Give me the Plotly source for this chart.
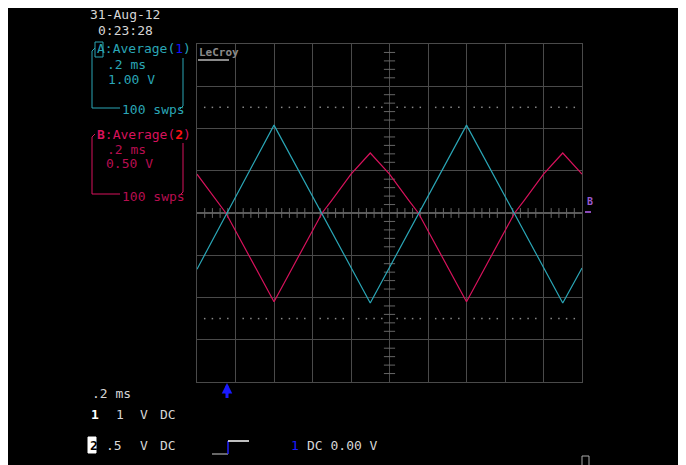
import plotly.graph_objects as go

# page body has an 8px margin, so the figure is laid out 8px smaller and
# every screen pixel coordinate below is shifted by OFF
OFF = 8
W, H = 686 - OFF, 465 - OFF

# channel A (1 V/div) - triangle wave, vertices
t_a = [0.00, 0.40, 0.90, 1.40, 1.90, 2.00]          # ms
v_a = [-1.33, 2.08, -2.13, 2.08, -2.13, -1.30]      # V

# channel B (0.5 V/div) - distorted, inverted triangle
t_b = [0.00, 0.10, 0.15, 0.20, 0.30, 0.40, 0.50, 0.60, 0.65, 0.70, 0.80, 0.90,
       1.00, 1.10, 1.15, 1.20, 1.30, 1.40, 1.50, 1.60, 1.65, 1.70, 1.80, 1.90, 2.00]
v_b = [0.46, 0.15, 0.00, -0.21, -0.63, -1.05, -0.63, -0.21, 0.00, 0.15, 0.46, 0.71,
       0.46, 0.15, 0.00, -0.21, -0.63, -1.05, -0.63, -0.21, 0.00, 0.15, 0.46, 0.71, 0.46]

volts_per_div = {"A": 1.0, "B": 0.5}
time_per_div = 0.2  # ms

CYAN = "#2aa6b6"
MAG = "#d8125c"
MAG_DARK = "#b80e50"
TXT = "#d6d6d6"
GRID = "#4a4a4a"

# graticule area in screen pixels
GX0, GX1, GY0, GY1 = 197, 582, 44, 382


def px(x, y):
    return (x - OFF) / W, 1 - (y - OFF) / H


fig = go.Figure()

# minor ticks on the centre axes and the dotted 2.5 div lines
minor_x = [round(i * time_per_div / 5, 3) for i in range(51) if i % 5]
minor_y = [i / 5 for i in range(-20, 21) if i % 5]
fig.add_trace(go.Scatter(x=minor_x, y=[0] * len(minor_x), mode="markers",
                         marker=dict(symbol="line-ns", size=7, line=dict(color="#666", width=1)),
                         hoverinfo="skip"))
fig.add_trace(go.Scatter(x=[1.0] * len(minor_y), y=minor_y, mode="markers",
                         marker=dict(symbol="line-ew", size=8, line=dict(color="#666", width=1)),
                         hoverinfo="skip"))
for yy in (2.5, -2.5):
    fig.add_trace(go.Scatter(x=minor_x, y=[yy] * len(minor_x), mode="markers",
                             marker=dict(symbol="square", size=1.5, color="#888", line=dict(width=0)),
                             hoverinfo="skip"))

fig.add_trace(go.Scatter(x=t_b, y=[v / volts_per_div["B"] for v in v_b], mode="lines",
                         line=dict(color=MAG, width=1.2), name="B"))
fig.add_trace(go.Scatter(x=t_a, y=[v / volts_per_div["A"] for v in v_a], mode="lines",
                         line=dict(color=CYAN, width=1.2), name="A"))

x0, y1 = px(GX0, GY0)
x1, y0 = px(GX1, GY1)
fig.update_xaxes(range=[0, 10 * time_per_div], domain=[x0, x1], dtick=time_per_div,
                 showgrid=True, gridcolor=GRID, gridwidth=1, zeroline=False,
                 showticklabels=False, showline=True, linecolor=GRID, mirror=True, fixedrange=True)
fig.update_yaxes(range=[-4, 4], domain=[y0, y1], dtick=1,
                 showgrid=True, gridcolor=GRID, gridwidth=1, zeroline=True, zerolinecolor="#5a5a5a",
                 showticklabels=False, showline=True, linecolor=GRID, mirror=True, fixedrange=True)

bx0, by1 = px(4, 8)
bx1, _ = px(682, 465)
shapes = [
    # black screen
    dict(type="rect", xref="paper", yref="paper", x0=bx0, x1=bx1, y0=0, y1=by1,
         fillcolor="black", line=dict(width=0), layer="below"),
    # centre vertical line
    dict(type="line", xref="x", yref="y", x0=1.0, x1=1.0, y0=-4, y1=4,
         line=dict(color="#5a5a5a", width=1), layer="below"),
]


def seg(xa, ya, xb, yb, color, width=1):
    a = px(xa, ya)
    b = px(xb, yb)
    shapes.append(dict(type="line", xref="paper", yref="paper", x0=a[0], y0=a[1],
                       x1=b[0], y1=b[1], line=dict(color=color, width=width)))


def box(xa, ya, xb, yb, color, fill=None):
    a = px(xa, ya)
    b = px(xb, yb)
    shapes.append(dict(type="rect", xref="paper", yref="paper", x0=a[0], y0=b[1],
                       x1=b[0], y1=a[1], line=dict(color=color, width=1),
                       fillcolor=fill if fill else "rgba(0,0,0,0)"))


# A bracket
seg(92, 51, 92, 108, CYAN)
seg(92, 51, 95, 48, CYAN)
seg(92, 108, 120, 108, CYAN)
seg(183, 58, 183, 106, CYAN)
seg(183, 106, 180, 109, CYAN)
box(95, 42, 103, 57, CYAN)
# B bracket
seg(92, 137, 92, 194, MAG)
seg(92, 137, 95, 134, MAG)
seg(92, 194, 120, 194, MAG)
seg(183, 143, 183, 192, MAG)
seg(183, 192, 180, 195, MAG)
# LeCroy underline
seg(198, 60, 229, 60, "#8a8a8a", 2)
# inverted "2" box
box(88, 437, 96, 453, "white", "white")
# trigger edge glyph
seg(212, 454, 228, 454, "#8a8a8a", 1.5)
seg(228, 454, 228, 441, "#2020ff", 1.5)
seg(228, 441, 249, 441, "white", 1.5)
# blue trigger arrow shaft
seg(227, 398, 227, 388, "#1a1aff", 3)
# B marker underline on right edge
seg(585, 212, 591, 212, "#8a4ab8", 2)
# small rectangle bottom right
box(582, 456, 589, 466, "#aaaaaa")

fig.update_layout(shapes=shapes)

FONT = "DejaVu Sans Mono"
ann = []


def text(x, y, s, color=TXT, size=13, anchor="left"):
    p = px(x, y)
    ann.append(dict(x=p[0], y=p[1], xref="paper", yref="paper", text=s, showarrow=False,
                    xanchor=anchor, yanchor="middle", font=dict(family=FONT, size=size, color=color)))


text(88, 15, "31-Aug-12")
text(96, 30, "0:23:28")
text(95, 49, "A:Average(<span style='color:#1010ff'>1</span>)", CYAN)
text(105, 64, ".2 ms", CYAN)
text(106, 79, "1.00 V", CYAN)
text(120, 110, "100 swps", CYAN)
text(95, 134, "<b>B</b>:Average(<span style='color:#ff1010'><b>2</b></span>)", MAG)
text(105, 149, ".2 ms", MAG_DARK)
text(104, 164, "0.50 V", MAG_DARK)
text(120, 196, "100 swps", MAG_DARK)
text(197, 53, "<b>LeCroy</b>", "#8a8a8a", 11)
text(585, 201, "<b>B</b>", "#9a5ad0", 10)
text(90, 393, ".2 ms")
text(89, 414, "<b>1</b>", "white")
text(114, 414, "1")
text(138, 414, "V")
text(158, 414, "DC")
text(88, 445, "<b>2</b>", "black")
text(104, 445, ".5")
text(138, 445, "V")
text(158, 445, "DC")
text(289, 445, "1", "#1a1aff")
text(305, 445, "DC 0.00 V")

# blue trigger arrow head under the graticule
tip = px(227, 383)
ann.append(dict(x=tip[0], y=tip[1], xref="paper", yref="paper", ax=0, ay=12, text="",
                showarrow=True, arrowhead=2, arrowsize=0.7, arrowwidth=3, arrowcolor="#1a1aff"))

fig.update_layout(
    width=W, height=H, margin=dict(l=0, r=0, t=0, b=0),
    paper_bgcolor="white", plot_bgcolor="black",
    showlegend=False, annotations=ann,
)

fig.write_html("out.html", config={"displayModeBar": False})
